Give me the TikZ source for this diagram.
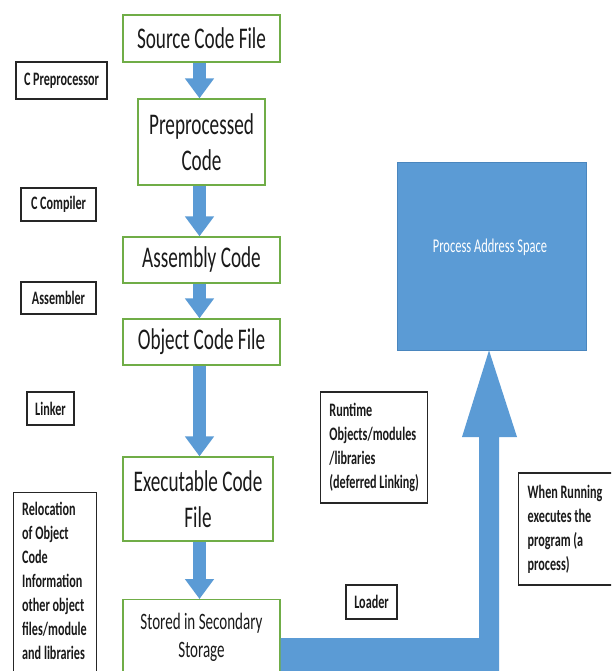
\documentclass[tikz,border=0pt]{standalone}
\usepackage{fontspec}
\newfontfamily\cfont[FakeStretch=0.64]{Carlito}
\usetikzlibrary{arrows.meta,calc}
\definecolor{boxgreen}{HTML}{70AD47}
\definecolor{arrblue}{HTML}{5B9BD5}
\definecolor{blueedge}{HTML}{4A86BE}
\definecolor{txt}{HTML}{1A1A1A}
\begin{document}
\begin{tikzpicture}[x=1pt,y=-1pt,
  gbox/.style={draw=boxgreen, line width=1.3pt, fill=white, inner sep=0pt, align=center,
    font=\cfont\fontsize{30}{36}\selectfont, text=txt},
  lbox/.style={draw=black!85, line width=1.4pt, fill=white, inner sep=0pt, align=flush left,
    font=\cfont\bfseries\fontsize{19}{24}\selectfont, text=txt},
  ltext/.style={inner sep=0pt, align=flush left, font=\cfont\bfseries\fontsize{19}{24}\selectfont, text=txt},
  darrow/.style={draw=arrblue, line width=13pt, -{Triangle[width=28pt,length=20pt]}}
]
\useasboundingbox (0,0) rectangle (611,671);
\clip (0,0) rectangle (611,671);
\coordinate (ax) at (199.5,0);

% process address space
\node[fill=arrblue, draw=blueedge, line width=0.8pt, minimum width=189pt, minimum height=188pt, inner sep=0pt] (pas) at (491.5,256) {};
\node[text=white, inner sep=0pt, font=\cfont\fontsize{19.5}{24}\selectfont] (pastext) at (490,247) {Process Address Space};

% green boxes
\node[gbox, minimum width=157pt, minimum height=47pt] (src) at (201.5,38.5) {Source Code File};
\node[gbox, minimum width=127pt, minimum height=86pt] (pre) at (201.5,142) {Preprocessed\\Code};
\node[gbox, minimum width=157pt, minimum height=46pt] (asm) at (201.5,260) {Assembly Code};
\node[gbox, minimum width=157pt, minimum height=46pt] (obj) at (201.5,342) {Object Code File};
\node[gbox, minimum width=150pt, minimum height=84pt] (exe) at (198,499) {Executable Code\\File};
\node[gbox, minimum width=157pt, minimum height=100pt, anchor=north] (sto) at (201.5,599) {};
\node[inner sep=0pt, align=center, font=\cfont\fontsize{23.5}{28}\selectfont, text=txt] (stotext) at (201.5,637) {Stored in Secondary\\Storage};

% loader arrow
\fill[arrblue] (sto.east |- 0,638) -- (479,638) -- (479,437) -- (462,437) -- ($(pas.south)+(-2.5,0)$)
  -- (517,437) -- (499,437) -- (499,671) -- (sto.east |- 0,671) -- cycle;

% flow arrows
\draw[darrow] (src.south -| ax) -- (pre.north -| ax);
\draw[darrow] (pre.south -| ax) -- (asm.north -| ax);
\draw[darrow] (asm.south -| ax) -- (obj.north -| ax);
\draw[darrow] (obj.south -| ax) -- (exe.north -| ax);
\draw[darrow] (exe.south -| ax) -- (sto.north -| ax);

% labels
\node[lbox, minimum width=91pt, minimum height=37pt] (cpp) at (61.5,80.5) {C Preprocessor};
\node[lbox, minimum width=75pt, minimum height=33pt] (cc) at (58.5,204.5) {C Compiler};
\node[lbox, minimum width=75pt, minimum height=32pt] (asmr) at (58.5,298) {Assembler};
\node[lbox, minimum width=47pt, minimum height=33pt] (lnk) at (50.5,408.5) {Linker};
\node[lbox, minimum width=83pt, minimum height=210pt, anchor=north west] (reloc) at (13,492) {};
\node[ltext, anchor=north west] (reloctext) at (22,502) {Relocation\\of Object\\Code\\Information\\other object\\files/module\\and libraries};
\node[lbox, minimum height=111pt, minimum width=107pt, anchor=west] (rt) at (320,447.5)
  {Runtime\\Objects/modules\\/libraries\\(deferred Linking)};
\node[lbox, minimum height=112pt, text width=84pt, inner xsep=9pt, anchor=west] (wr) at (518,529)
  {When Running\\executes the\\program (a\\process)};
\node[lbox, minimum width=51pt, minimum height=34pt] (ldr) at (371.5,602) {Loader};
\end{tikzpicture}
\end{document}
